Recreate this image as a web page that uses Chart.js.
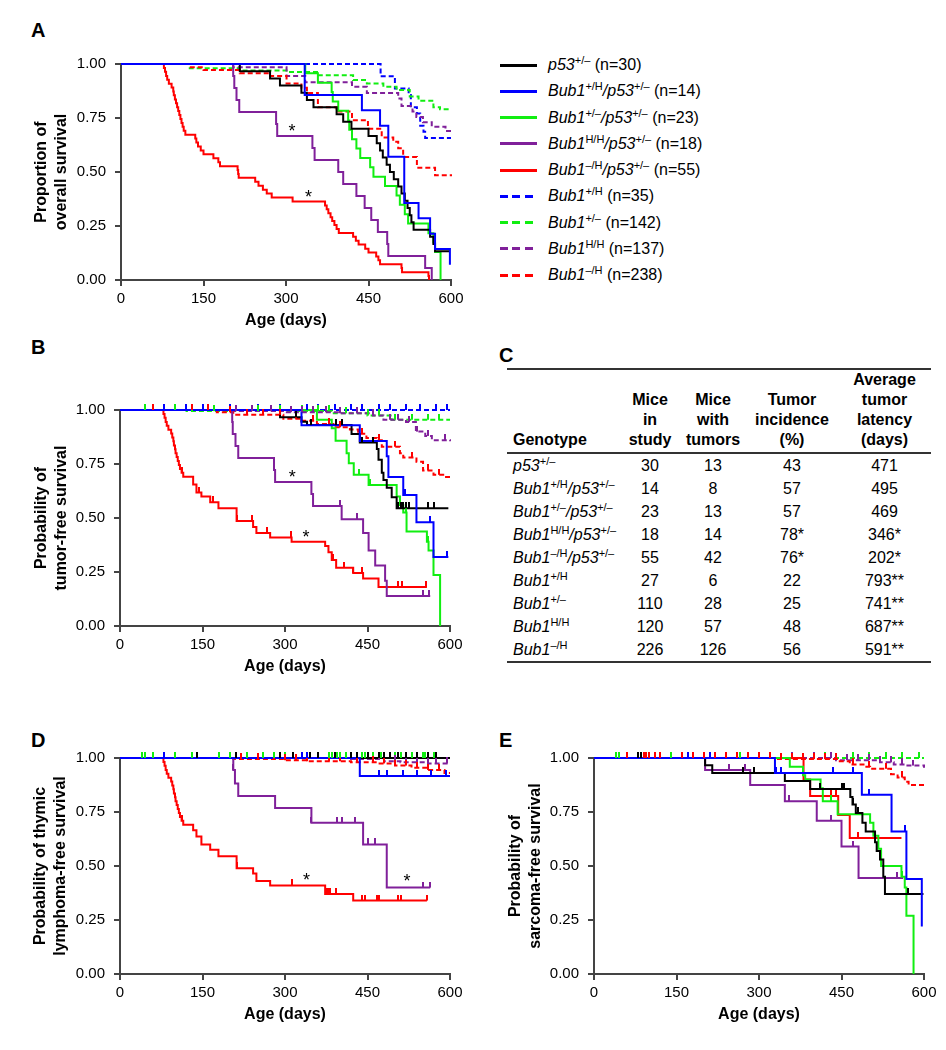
<!DOCTYPE html>
<html>
<head>
<meta charset="utf-8">
<title>Bub1 / p53 survival</title>
<script src="https://cdn.jsdelivr.net/npm/chart.js@4.4.1/dist/chart.umd.min.js"></script>
<style>
  body { margin: 0; background: #fff; }
  #page { position: relative; width: 946px; height: 1050px; font-family: "Liberation Sans", Arial, sans-serif; color: #000; }
  canvas { position: absolute; }
  .panel { position: absolute; font-size: 20px; line-height: 20px; font-weight: bold; }
  .row { position: absolute; left: 500px; height: 26px; display: flex; align-items: center; white-space: nowrap; font-size: 16px; }
  .swatch { width: 37px; height: 3px; margin-right: 11px; }
  sup { font-size: 11px; line-height: 0; vertical-align: 6px; font-style: normal; }
  #tbl { position: absolute; left: 507px; top: 368px; width: 424px; border-collapse: collapse; table-layout: fixed;
         font-size: 16px; border-top: 2px solid #333; border-bottom: 2px solid #333; }
  #tbl th { font-weight: bold; line-height: 20px; vertical-align: bottom; padding: 0 0 2px 0; height: 80px;
            border-bottom: 2px solid #333; text-align: center; }
  #tbl td { height: 23px; padding: 0; text-align: center; line-height: 23px; }
  #tbl .g { text-align: left; padding-left: 6px; }
</style>
</head>
<body>
<div id="page">
  <div class="panel" style="left:31px;top:20px">A</div>
  <div class="panel" style="left:31px;top:337px">B</div>
  <div class="panel" style="left:499px;top:345px">C</div>
  <div class="panel" style="left:31px;top:730px">D</div>
  <div class="panel" style="left:499px;top:730px">E</div>

  <canvas id="chartA" width="470" height="300" style="left:0;top:40px"></canvas>
  <canvas id="chartB" width="470" height="316" style="left:0;top:370px"></canvas>
  <canvas id="chartD" width="470" height="316" style="left:0;top:718px"></canvas>
  <canvas id="chartE" width="476" height="316" style="left:470px;top:718px"></canvas>

  <div id="legend"></div>

  <table id="tbl">
    <colgroup><col style="width:113px"><col style="width:60px"><col style="width:66px"><col style="width:92px"><col style="width:93px"></colgroup>
    <thead><tr id="thead"></tr></thead>
    <tbody id="tbody"></tbody>
  </table>
</div>

<script>
// series order: p53, Bub1+/H p53, Bub1+/- p53, Bub1H/H p53, Bub1-/H p53, Bub1+/H, Bub1+/-, Bub1H/H, Bub1-/H
const legendLabels = [
  '<i>p53</i><sup>+/–</sup>&nbsp;(n=30)',
  '<i>Bub1</i><sup>+/H</sup><i>/p53</i><sup>+/–</sup>&nbsp;(n=14)',
  '<i>Bub1</i><sup>+/–</sup><i>/p53</i><sup>+/–</sup>&nbsp;(n=23)',
  '<i>Bub1</i><sup>H/H</sup><i>/p53</i><sup>+/–</sup>&nbsp;(n=18)',
  '<i>Bub1</i><sup>–/H</sup><i>/p53</i><sup>+/–</sup>&nbsp;(n=55)',
  '<i>Bub1</i><sup>+/H</sup>&nbsp;(n=35)',
  '<i>Bub1</i><sup>+/–</sup>&nbsp;(n=142)',
  '<i>Bub1</i><sup>H/H</sup>&nbsp;(n=137)',
  '<i>Bub1</i><sup>–/H</sup>&nbsp;(n=238)'
];
const seriesColor = ['#000000', '#0000ff', '#11ee11', '#80209a', '#ff0000', '#0000ff', '#11ee11', '#80209a', '#ff0000'];
const seriesDashed = [false, false, false, false, false, true, true, true, true];
const drawOrder = [1, 0, 2, 3, 4, 8, 7, 6, 5];

const xTicks = [0, 150, 300, 450, 600];
const yTicks = [0, 0.25, 0.5, 0.75, 1];

// ---- panel A: overall survival  [age, proportion surviving]
const A_p53 = [[0,1],[216,0.967],[271,0.933],[289,0.9],[328,0.867],[338,0.833],[350,0.8],[392,0.767],[404,0.733],[419,0.7],[450,0.667],[465,0.633],[471,0.6],[476,0.567],[483,0.533],[489,0.5],[496,0.467],[504,0.433],[510,0.4],[516,0.367],[521,0.333],[525,0.3],[528,0.267],[532,0.233],[562,0.2],[568,0.167],[571,0.133],[598,0.133]];
const A_pH_p53 = [[0,1],[334,0.857],[438,0.786],[471,0.714],[486,0.571],[515,0.357],[541,0.286],[562,0.214],[571,0.143],[598,0.071]];
const A_pm_p53 = [[0,1],[335,0.957],[358,0.913],[383,0.87],[385,0.826],[395,0.783],[413,0.739],[415,0.696],[420,0.652],[428,0.609],[435,0.565],[453,0.522],[459,0.478],[480,0.435],[501,0.391],[507,0.348],[516,0.304],[522,0.261],[559,0.217],[568,0.174],[571,0.13],[581,0]];
const A_HH_p53 = [[0,1],[204,0.944],[206,0.889],[210,0.833],[215,0.778],[282,0.722],[284,0.667],[348,0.611],[352,0.556],[395,0.5],[404,0.444],[428,0.389],[443,0.333],[455,0.278],[467,0.222],[484,0.167],[486,0.111],[553,0.056],[565,0]];
const A_mH_p53 = [[0,1],[78,0.982],[80,0.964],[82,0.945],[84,0.927],[87,0.909],[92,0.891],[95,0.873],[96,0.855],[98,0.836],[100,0.818],[102,0.8],[104,0.782],[106,0.764],[108,0.745],[110,0.727],[112,0.709],[114,0.691],[117,0.673],[135,0.655],[137,0.636],[140,0.618],[145,0.6],[150,0.582],[168,0.564],[177,0.545],[180,0.527],[212,0.509],[213,0.491],[214,0.473],[244,0.455],[250,0.436],[258,0.418],[265,0.4],[274,0.382],[312,0.364],[371,0.345],[374,0.327],[377,0.309],[381,0.291],[384,0.273],[388,0.255],[392,0.236],[396,0.218],[422,0.2],[427,0.182],[432,0.164],[444,0.145],[450,0.127],[464,0.109],[468,0.091],[471,0.073],[510,0.055],[511,0.036],[559,0.018],[560,0]];
const A_pH = [[0,1],[472,0.943],[498,0.886],[523,0.857],[527,0.8],[538,0.771],[544,0.714],[550,0.686],[553,0.657],[600,0.657]];
const A_pm = [[0,1],[125,0.98],[216,0.97],[301,0.963],[359,0.948],[422,0.926],[447,0.91],[477,0.895],[501,0.88],[525,0.85],[541,0.83],[568,0.8],[580,0.79],[600,0.79]];
const A_HH = [[0,1],[204,0.985],[301,0.945],[335,0.915],[420,0.895],[447,0.866],[504,0.84],[510,0.805],[530,0.78],[537,0.755],[549,0.73],[565,0.71],[590,0.69],[600,0.69]];
const A_mH = [[0,1],[125,0.985],[150,0.972],[216,0.957],[271,0.945],[301,0.91],[328,0.89],[338,0.866],[358,0.8],[392,0.78],[420,0.74],[449,0.7],[474,0.66],[495,0.64],[504,0.61],[513,0.57],[538,0.52],[571,0.485],[600,0.48]];
const A_stars = [[311,0.71],[341,0.405]];

// ---- panel B: tumor-free survival
const B_p53 = [[0,1],[291,0.966],[330,0.946],[340,0.93],[421,0.889],[436,0.849],[467,0.82],[470,0.77],[476,0.71],[479,0.676],[485,0.64],[494,0.596],[503,0.545],[597,0.545]];
const B_pH_p53 = [[0,1],[330,0.929],[436,0.857],[485,0.786],[488,0.69],[515,0.607],[539,0.48],[570,0.32],[597,0.32]];
const B_pm_p53 = [[0,1],[358,0.955],[385,0.915],[392,0.858],[412,0.8],[416,0.753],[425,0.7],[452,0.653],[503,0.6],[509,0.56],[515,0.525],[521,0.437],[558,0.39],[561,0.35],[570,0.236],[582,0]];
const B_HH_p53 = [[0,1],[204,0.944],[205,0.889],[210,0.833],[215,0.778],[280,0.722],[282,0.667],[348,0.611],[351,0.556],[403,0.494],[442,0.43],[452,0.35],[464,0.28],[482,0.21],[485,0.139],[564,0.139]];
const B_mH_p53 = [[0,1],[79,0.982],[81,0.964],[83,0.945],[85,0.927],[88,0.909],[93,0.891],[95,0.873],[97,0.855],[98,0.836],[100,0.818],[101,0.8],[103,0.782],[105,0.764],[107,0.745],[109,0.727],[112,0.709],[115,0.691],[133,0.655],[139,0.618],[148,0.6],[164,0.573],[179,0.545],[212,0.486],[242,0.458],[248,0.43],[273,0.41],[312,0.39],[373,0.37],[379,0.342],[385,0.305],[393,0.27],[424,0.245],[442,0.22],[470,0.18],[558,0.18]];
const B_pH = [[0,1],[600,1]];
const B_pm = [[0,1],[121,0.995],[385,0.985],[450,0.975],[494,0.955],[600,0.955]];
const B_HH = [[0,1],[204,0.995],[300,0.99],[400,0.985],[460,0.975],[479,0.955],[520,0.945],[538,0.9],[555,0.88],[567,0.86],[600,0.855]];
const B_mH = [[0,1],[176,0.99],[206,0.978],[297,0.96],[330,0.95],[358,0.935],[388,0.92],[418,0.91],[433,0.89],[448,0.87],[467,0.86],[476,0.83],[509,0.8],[515,0.78],[539,0.76],[551,0.72],[570,0.7],[590,0.69],[600,0.69]];
const B_stars = [[313,0.71],[338,0.43]];
// censored ages
const B_p53_c = [320, 348, 392, 404, 440, 460, 505, 510, 515, 520, 525, 560, 570];
const B_pH_p53_c = [518, 564, 594];
const B_pm_p53_c = [435, 455, 520, 560];
const B_HH_p53_c = [400, 430, 550, 562];
const B_mH_p53_c = [112, 143, 169, 212, 240, 268, 310, 388, 408, 424, 440, 505, 512, 556];
const B_pH_c = [80, 120, 150, 200, 250, 290, 340, 360, 390, 420, 440, 470, 490, 520, 545, 575, 595];
const B_pm_c = [45, 100, 130, 170, 210, 250, 290, 330, 360, 380, 410, 430, 450, 470, 500, 530, 560, 580];
const B_HH_c = [210, 240, 275, 310, 330, 350, 375, 400, 430, 460, 490, 505, 525, 540, 560, 590];
const B_mH_c = [60, 130, 160, 200, 230, 260, 290, 320, 350, 380, 400, 440, 470, 500, 530, 560, 580];

// ---- panel D: thymic lymphoma-free survival
const D_p53 = [[0,1],[600,1]];
const D_pH_p53 = [[0,1],[436,0.917],[600,0.917]];
const D_pm_p53 = [[0,1],[570,1]];
const D_HH_p53 = [[0,1],[206,0.944],[209,0.882],[215,0.824],[282,0.768],[348,0.7],[442,0.6],[485,0.4],[564,0.4]];
const D_mH_p53 = [[0,1],[79,0.982],[81,0.964],[83,0.945],[85,0.927],[88,0.909],[93,0.891],[95,0.873],[97,0.855],[98,0.836],[100,0.818],[101,0.8],[103,0.782],[105,0.764],[107,0.745],[109,0.727],[112,0.709],[115,0.691],[133,0.665],[139,0.636],[148,0.6],[164,0.575],[179,0.545],[212,0.49],[242,0.465],[248,0.43],[273,0.41],[373,0.37],[424,0.34],[558,0.34]];
const D_pH = [[0,1],[600,1]];
const D_pm = [[0,1],[600,1]];
const D_HH = [[0,1],[420,0.995],[480,0.985],[510,0.98],[560,0.975],[600,0.975]];
const D_mH = [[0,1],[206,0.995],[297,0.99],[340,0.985],[420,0.98],[470,0.975],[500,0.965],[530,0.955],[560,0.945],[590,0.93],[600,0.93]];
const D_stars = [[339,0.454],[522,0.45]];
const D_p53_c = [140, 210, 290, 315, 340, 345, 360, 390, 420, 430, 450, 470, 480, 490, 505, 520, 540, 560, 575];
const D_pH_p53_c = [330, 340, 470, 485, 515, 540, 565, 593];
const D_pm_p53_c = [40, 60, 100, 180, 230, 280, 380, 400, 420, 440, 450, 470, 490, 510, 530, 550, 570];
const D_HH_p53_c = [206, 348, 395, 404, 427, 450, 463, 550, 564];
const D_mH_p53_c = [112, 212, 312, 375, 378, 382, 392, 440, 445, 468, 470, 505, 510, 558];
const D_pH_c = [80, 140, 200, 300, 330, 400, 440, 480];
const D_pm_c = [45, 100, 130, 200, 260, 300, 385, 395, 410, 420, 430, 445, 460, 475, 480, 500, 520, 540, 555];
const D_HH_c = [210, 430, 470, 500, 520, 540, 560, 575, 595];
const D_mH_c = [60, 100, 140, 180, 220, 250, 280, 300, 320, 340, 380, 400, 430, 460, 480, 500, 520, 540, 560, 580];

// ---- panel E: sarcoma-free survival
const E_p53 = [[0,1],[202,0.966],[215,0.93],[347,0.893],[393,0.857],[466,0.82],[470,0.785],[476,0.745],[488,0.7],[494,0.66],[511,0.61],[514,0.57],[520,0.53],[526,0.45],[529,0.37],[599,0.37]];
const E_pH_p53 = [[0,1],[329,0.93],[487,0.83],[541,0.66],[568,0.44],[596,0.22]];
const E_pm_p53 = [[0,1],[356,0.96],[380,0.92],[384,0.9],[412,0.86],[416,0.8],[443,0.74],[502,0.7],[508,0.64],[517,0.58],[522,0.5],[559,0.45],[565,0.4],[568,0.27],[581,0]];
const E_HH_p53 = [[0,1],[202,0.945],[284,0.875],[347,0.8],[405,0.71],[450,0.59],[481,0.445],[562,0.445]];
const E_mH_p53 = [[0,1],[381,0.9],[393,0.824],[444,0.736],[465,0.63],[559,0.63]];
const E_pH = [[0,1],[600,1]];
const E_pm = [[0,1],[600,1]];
const E_HH = [[0,1],[440,0.99],[520,0.98],[545,0.97],[565,0.965],[600,0.955]];
const E_mH = [[0,1],[330,0.995],[445,0.985],[465,0.97],[490,0.96],[502,0.95],[540,0.925],[552,0.91],[565,0.89],[572,0.875],[600,0.875]];
const E_p53_c = [80, 85, 270, 290, 410, 450, 455, 470, 480, 570];
const E_pH_p53_c = [170, 210, 330, 340, 435, 470, 500, 565];
const E_pm_p53_c = [45, 140, 265, 430, 560];
const E_HH_p53_c = [245, 275, 355, 430, 470, 550];
const E_mH_p53_c = [80, 100, 110, 430, 440, 480];
const E_pH_c = [];
const E_pm_c = [40, 120, 200, 300, 360, 420, 470, 500, 530, 560, 590];
const E_HH_c = [360, 400, 430, 460, 480, 500, 520, 540, 560, 580];
const E_mH_c = [60, 80, 85, 90, 95, 110, 120, 140, 160, 180, 200, 220, 240, 260, 280, 300, 320, 340, 360, 380, 400, 420, 440, 470, 500, 530, 560];

// ---- panel C: table
const tableHeads = ['Genotype', 'Mice<br>in<br>study', 'Mice<br>with<br>tumors', 'Tumor<br>incidence<br>(%)', 'Average<br>tumor<br>latency<br>(days)'];
const tableGenotypes = [
  '<i>p53</i><sup>+/–</sup>',
  '<i>Bub1</i><sup>+/H</sup><i>/p53</i><sup>+/–</sup>',
  '<i>Bub1</i><sup>+/–</sup><i>/p53</i><sup>+/–</sup>',
  '<i>Bub1</i><sup>H/H</sup><i>/p53</i><sup>+/–</sup>',
  '<i>Bub1</i><sup>–/H</sup><i>/p53</i><sup>+/–</sup>',
  '<i>Bub1</i><sup>+/H</sup>',
  '<i>Bub1</i><sup>+/–</sup>',
  '<i>Bub1</i><sup>H/H</sup>',
  '<i>Bub1</i><sup>–/H</sup>'
];
const miceInStudy = ['30', '14', '23', '18', '55', '27', '110', '120', '226'];
const miceWithTumors = ['13', '8', '13', '14', '42', '6', '28', '57', '126'];
const tumorIncidence = ['43', '57', '57', '78*', '76*', '22', '25', '48', '56'];
const tumorLatency = ['471', '495', '469', '346*', '202*', '793**', '741**', '687**', '591**'];

const FONT = '"Liberation Sans", Arial, sans-serif';

// legend
const legend = document.getElementById('legend');
legendLabels.forEach((lab, i) => {
  const row = document.createElement('div');
  row.className = 'row';
  row.style.top = (52 + i * 26.25) + 'px';
  const sw = document.createElement('div');
  sw.className = 'swatch';
  const c = seriesColor[i];
  sw.style.background = seriesDashed[i]
    ? `repeating-linear-gradient(to right, ${c} 0 8px, transparent 8px 12.5px)`
    : c;
  row.appendChild(sw);
  const txt = document.createElement('span');
  txt.innerHTML = lab;
  row.appendChild(txt);
  legend.appendChild(row);
});

// table
const thead = document.getElementById('thead');
tableHeads.forEach((h, i) => {
  const th = document.createElement('th');
  th.innerHTML = h;
  if (i === 0) th.className = 'g';
  thead.appendChild(th);
});
const tbody = document.getElementById('tbody');
tableGenotypes.forEach((g, i) => {
  const tr = document.createElement('tr');
  [g, miceInStudy[i], miceWithTumors[i], tumorIncidence[i], tumorLatency[i]].forEach((v, j) => {
    const td = document.createElement('td');
    td.innerHTML = v;
    if (j === 0) td.className = 'g';
    tr.appendChild(td);
  });
  tbody.appendChild(tr);
});

function survAt(curve, t) {
  let s = 1;
  for (const p of curve) {
    if (p[0] <= t) s = p[1]; else break;
  }
  return s;
}

// censor tick: short vertical stroke standing on top of the curve
const tickCache = {};
function censorMark(color) {
  if (!tickCache[color]) {
    const c = document.createElement('canvas');
    c.width = 2; c.height = 12;
    const g = c.getContext('2d');
    g.fillStyle = color;
    g.fillRect(0, 0, 2, 6);
    tickCache[color] = c;
  }
  return tickCache[color];
}

const starPlugin = {
  id: 'stars',
  afterDatasetsDraw(chart, args, opts) {
    const { ctx, scales } = chart;
    ctx.save();
    ctx.font = '18px ' + FONT;
    ctx.fillStyle = '#000';
    ctx.textAlign = 'center';
    ctx.textBaseline = 'alphabetic';
    (opts.points || []).forEach(p => {
      ctx.fillText('*', scales.x.getPixelForValue(p[0]), scales.y.getPixelForValue(p[1]) + 10);
    });
    ctx.restore();
  }
};

function makePanel(id, curves, censors, stars, yTitle, titlePad, yWidth, padTop, padRight) {
  const datasets = [];
  drawOrder.forEach(i => {
    if (!censors[i].length) return;
    datasets.push({
      data: censors[i].map(t => ({ x: t, y: survAt(curves[i], t) })),
      showLine: false,
      pointStyle: censorMark(seriesColor[i]),
      pointRadius: 6,
      borderColor: seriesColor[i],
      clip: false
    });
  });
  drawOrder.forEach(i => {
    datasets.push({
      data: curves[i].map(p => ({ x: p[0], y: p[1] })),
      showLine: true,
      stepped: true,
      borderColor: seriesColor[i],
      borderWidth: 2,
      borderDash: seriesDashed[i] ? [5, 3] : [],
      pointRadius: 0,
      fill: false,
      clip: false
    });
  });

  const tickFont = { family: FONT, size: 15 };
  const titleFont = { family: FONT, size: 16, weight: 'bold', lineHeight: 1.25 };

  new Chart(document.getElementById(id), {
    type: 'scatter',
    data: { datasets },
    plugins: [starPlugin],
    options: {
      responsive: false,
      animation: false,
      events: [],
      layout: { padding: { left: 0, top: padTop, right: padRight, bottom: 0 } },
      plugins: {
        legend: { display: false },
        tooltip: { enabled: false },
        stars: { points: stars }
      },
      scales: {
        x: {
          type: 'linear', min: 0, max: 600,
          afterFit: s => { s.height = 60; },
          afterBuildTicks: s => { s.ticks = xTicks.map(v => ({ value: v })); },
          ticks: { color: '#000', font: tickFont, padding: 4, maxRotation: 0 },
          grid: { drawOnChartArea: false, color: '#444', lineWidth: 2, tickLength: 6 },
          border: { color: '#444', width: 2 },
          title: { display: true, text: 'Age (days)', color: '#000', font: titleFont, padding: { top: 0, bottom: 9 } }
        },
        y: {
          type: 'linear', min: 0, max: 1,
          afterFit: s => { s.width = yWidth; },
          afterBuildTicks: s => { s.ticks = yTicks.map(v => ({ value: v })); },
          ticks: { color: '#000', font: tickFont, padding: 9, callback: v => Number(v).toFixed(2) },
          grid: { drawOnChartArea: false, color: '#444', lineWidth: 2, tickLength: 6 },
          border: { color: '#444', width: 2 },
          title: { display: true, text: yTitle, color: '#000', font: titleFont, padding: { top: titlePad, bottom: 0 } }
        }
      }
    }
  });
}

const none = [];
makePanel('chartA',
  [A_p53, A_pH_p53, A_pm_p53, A_HH_p53, A_mH_p53, A_pH, A_pm, A_HH, A_mH],
  [none, none, none, none, none, none, none, none, none],
  A_stars, ['Proportion of', 'overall survival'], 32, 121, 24, 19);
makePanel('chartB',
  [B_p53, B_pH_p53, B_pm_p53, B_HH_p53, B_mH_p53, B_pH, B_pm, B_HH, B_mH],
  [B_p53_c, B_pH_p53_c, B_pm_p53_c, B_HH_p53_c, B_mH_p53_c, B_pH_c, B_pm_c, B_HH_c, B_mH_c],
  B_stars, ['Probability of', 'tumor-free survival'], 32, 120, 40, 20);
makePanel('chartD',
  [D_p53, D_pH_p53, D_pm_p53, D_HH_p53, D_mH_p53, D_pH, D_pm, D_HH, D_mH],
  [D_p53_c, D_pH_p53_c, D_pm_p53_c, D_HH_p53_c, D_mH_p53_c, D_pH_c, D_pm_c, D_HH_c, D_mH_c],
  D_stars, ['Probability of thymic', 'lymphoma-free survival'], 31, 120, 40, 20);
makePanel('chartE',
  [E_p53, E_pH_p53, E_pm_p53, E_HH_p53, E_mH_p53, E_pH, E_pm, E_HH, E_mH],
  [E_p53_c, E_pH_p53_c, E_pm_p53_c, E_HH_p53_c, E_mH_p53_c, E_pH_c, E_pm_c, E_HH_c, E_mH_c],
  [], ['Probability of', 'sarcoma-free survival'], 36, 124, 40, 22);
</script>
</body>
</html>
